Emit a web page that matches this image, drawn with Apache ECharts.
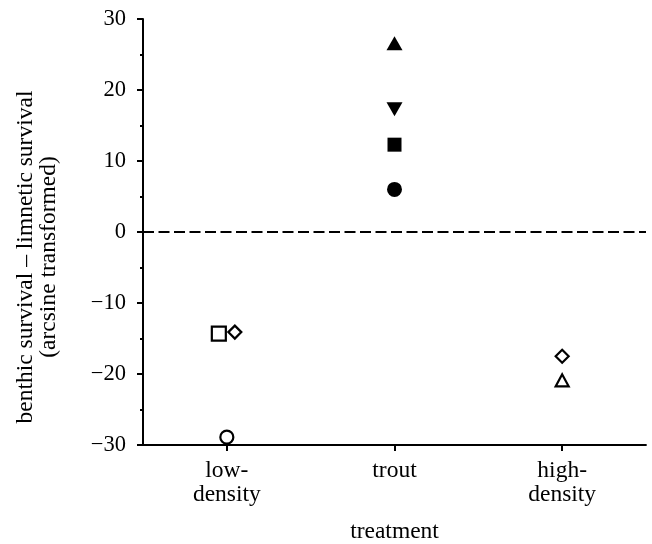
<!DOCTYPE html>
<html>
<head>
<meta charset="utf-8">
<script src="https://cdn.jsdelivr.net/npm/echarts@6/dist/echarts.min.js"></script>
<style>
  html, body { margin: 0; padding: 0; background: #fff; }
  #chart { width: 652px; height: 544px; }
</style>
</head>
<body>
<div id="chart"></div>
<script>
// ---- Data ----
const categories = ['low-\ndensity', 'trout', 'high-\ndensity'];
const yTicks = [-30, -20, -10, 0, 10, 20, 30];

// open symbols
const openSquare   = [-14.3, null, null];
const openDiamond  = [-14.1, null, -17.5];
const openCircle   = [-28.9, null, null];
const openTriangle = [null, null, -20.9];
// filled symbols
const filledTriangleUp   = [null, 26.6, null];
const filledTriangleDown = [null, 17.3, null];
const filledSquare       = [null, 12.3, null];
const filledCircle       = [null, 6.0, null];

const referenceLine = 0;

// ---- Styles ----
const FONT = "'Liberation Serif', 'Times New Roman', serif";
const toData = arr => arr.map(v => (v === null ? '-' : v));

function openSeries(name, symbol, arr, size, offsets) {
  return {
    name, type: 'scatter', symbol, symbolSize: size,
    data: arr.map((v, i) => ({
      value: v === null ? '-' : v,
      symbolOffset: [offsets ? offsets[i] : 0, 0]
    })),
    itemStyle: { color: '#fff', borderColor: '#000', borderWidth: 2.2, opacity: 1 },
    emphasis: { disabled: true },
    z: 5
  };
}
function filledSeries(name, symbol, arr, size, rotate) {
  return {
    name, type: 'scatter', symbol, symbolSize: size, symbolRotate: rotate || 0,
    data: toData(arr),
    itemStyle: { color: '#000', opacity: 1 },
    emphasis: { disabled: true },
    z: 5
  };
}

const chart = echarts.init(document.getElementById('chart'), null, { renderer: 'canvas' });
chart.setOption({
  animation: false,
  backgroundColor: '#fff',
  grid: { left: 143, right: 6, top: 19, bottom: 99, containLabel: false, outerBoundsMode: 'none' },
  xAxis: {
    type: 'category',
    data: categories,
    boundaryGap: true,
    name: 'treatment',
    nameLocation: 'middle',
    nameGap: 76,
    nameTextStyle: { fontFamily: FONT, fontSize: 23.5, color: '#000', lineHeight: 22 },
    axisLine: { show: true, onZero: false, lineStyle: { color: '#000', width: 1.8 } },
    axisTick: { show: true, alignWithLabel: true, length: 6, lineStyle: { color: '#000', width: 2 } },
    axisLabel: { fontFamily: FONT, fontSize: 23.5, color: '#000', margin: 14, lineHeight: 24, interval: 0 },
    splitLine: { show: false }
  },
  yAxis: {
    type: 'value',
    min: yTicks[0],
    max: yTicks[yTicks.length - 1],
    interval: 10,
    name: 'benthic survival \u2013 limnetic survival\n(arcsine transformed)',
    nameLocation: 'middle',
    nameGap: 83,
    nameTextStyle: { fontFamily: FONT, fontSize: 23.5, color: '#000', lineHeight: 23, align: 'center', padding: [0, 50, 0, 0] },
    axisLine: { show: true, lineStyle: { color: '#000', width: 2 } },
    axisTick: { show: true, length: 6, lineStyle: { color: '#000', width: 2 } },
    minorTick: { show: true, splitNumber: 2, length: 3, lineStyle: { color: '#000', width: 2 } },
    axisLabel: {
      fontFamily: FONT, fontSize: 22.5, color: '#000', margin: 17,
      formatter: v => String(v).replace('-', '\u2212')
    },
    splitLine: { show: false }
  },
  series: [
    {
      name: 'zero', type: 'scatter', data: [],
      markLine: {
        silent: true, symbol: ['none', 'none'], label: { show: false },
        lineStyle: { color: '#000', width: 1.8, type: [11, 4.5] },
        data: [{ yAxis: referenceLine }]
      },
      z: 2
    },
    openSeries('open square', 'rect', openSquare, 14, [-8, 0, 0]),
    openSeries('open diamond', 'diamond', openDiamond, [13, 13], [8, 0, 0]),
    openSeries('open circle', 'circle', openCircle, 13, null),
    openSeries('open triangle', 'triangle', openTriangle, [13, 12], null),
    filledSeries('filled triangle up', 'triangle', filledTriangleUp, [16, 14], 0),
    filledSeries('filled triangle down', 'triangle', filledTriangleDown, [16, 14], 180),
    filledSeries('filled square', 'rect', filledSquare, 14, 0),
    filledSeries('filled circle', 'circle', filledCircle, 15, 0)
  ]
});
</script>
</body>
</html>
